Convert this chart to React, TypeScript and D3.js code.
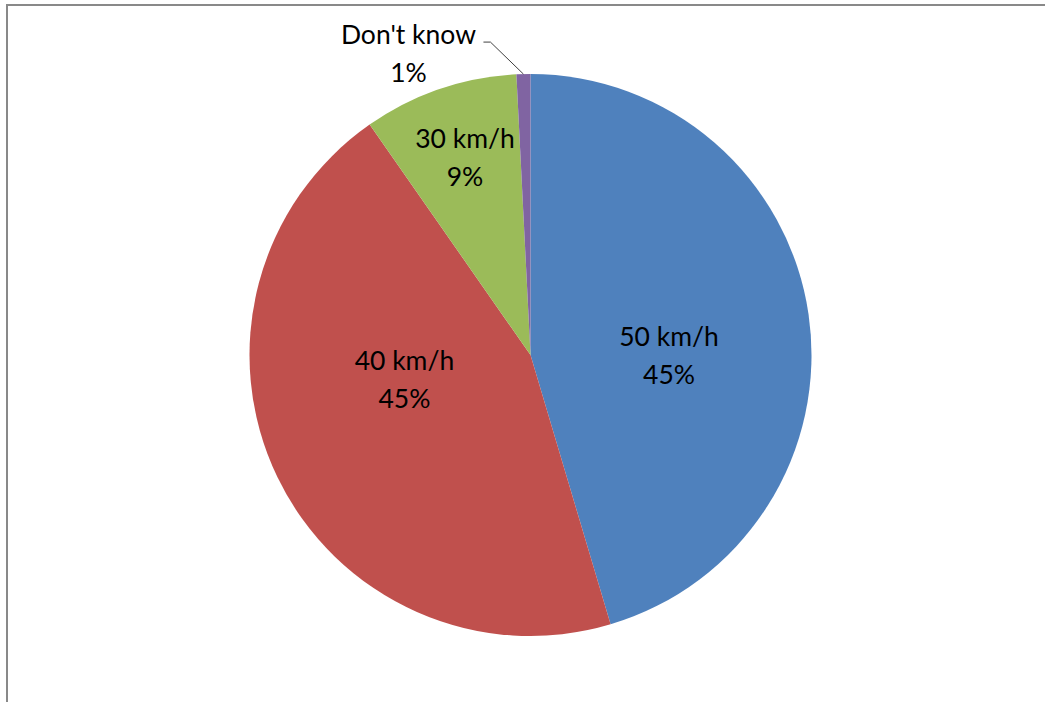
import React, { useRef, useEffect } from "react";
import * as d3 from "d3";

const categories = ["50 km/h", "40 km/h", "30 km/h", "Don't know"];
const shares = [45.4, 44.9, 8.9, 0.8];
const colors = ["#4F81BD", "#C0504D", "#9BBB59", "#8064A2"];

const width = 1045;
const height = 702;
const cx = 530.5;
const cy = 355;
const radius = 281;
const fontFamily = "Lato, 'Open Sans', sans-serif";
const fontSize = 26.5;

const App: React.FC = () => {
  const ref = useRef<SVGSVGElement>(null);

  useEffect(() => {
    if (!ref.current) return;
    const svg = d3.select(ref.current);
    svg.selectAll("*").remove();

    // frame (only top and left edges visible)
    svg
      .append("path")
      .attr("d", `M7,${height} L7,5 L${width},5`)
      .attr("fill", "none")
      .attr("stroke", "#898989")
      .attr("stroke-width", 2);

    const data = categories.map((c, i) => ({ name: c, value: shares[i], color: colors[i] }));
    const pie = d3
      .pie<any>()
      .value((d) => d.value)
      .sort(null);
    const arcs = pie(data);
    const arc = d3.arc<any>().innerRadius(0).outerRadius(radius);

    const g = svg.append("g").attr("transform", `translate(${cx},${cy})`);

    g.selectAll("path.slice")
      .data(arcs)
      .enter()
      .append("path")
      .attr("class", "slice")
      .attr("d", arc)
      .attr("fill", (d) => d.data.color);

    const pct = (v: number) => Math.round(v) + "%";

    const label = (x: number, y: number, a: any) => {
      const t = g
        .append("text")
        .attr("text-anchor", "middle")
        .attr("font-family", fontFamily)
        .attr("font-size", fontSize)
        .attr("fill", "#000");
      t.append("tspan").attr("x", x).attr("y", y - 10).text(a.data.name);
      t.append("tspan").attr("x", x).attr("y", y + 28).text(pct(a.data.value));
    };

    arcs.forEach((a) => {
      const mid = (a.startAngle + a.endAngle) / 2;
      const sx = Math.sin(mid);
      const sy = -Math.cos(mid);
      const frac = a.data.value / 100;
      if (frac > 0.3) {
        label(sx * 140, sy * 135 * 0.3 + 7, a);
      } else if (frac > 0.03) {
        label(sx * radius * 0.72, sy * radius * 0.74, a);
      } else {
        // outside label with leader line
        const ox = sx * radius;
        const oy = sy * radius;
        const ex = ox - 33;
        const ey = oy - 32;
        g.append("path")
          .attr("d", `M${ox},${oy} L${ex},${ey} L${ex - 7},${ey}`)
          .attr("fill", "none")
          .attr("stroke", "#404040")
          .attr("stroke-width", 1);
        label(ex - 82, ey + 12, a);
      }
    });
  }, []);

  return (
    <svg
      ref={ref}
      width={width}
      height={height}
      style={{ position: "absolute", left: 0, top: 0, background: "#fff" }}
    />
  );
};

export default App;
